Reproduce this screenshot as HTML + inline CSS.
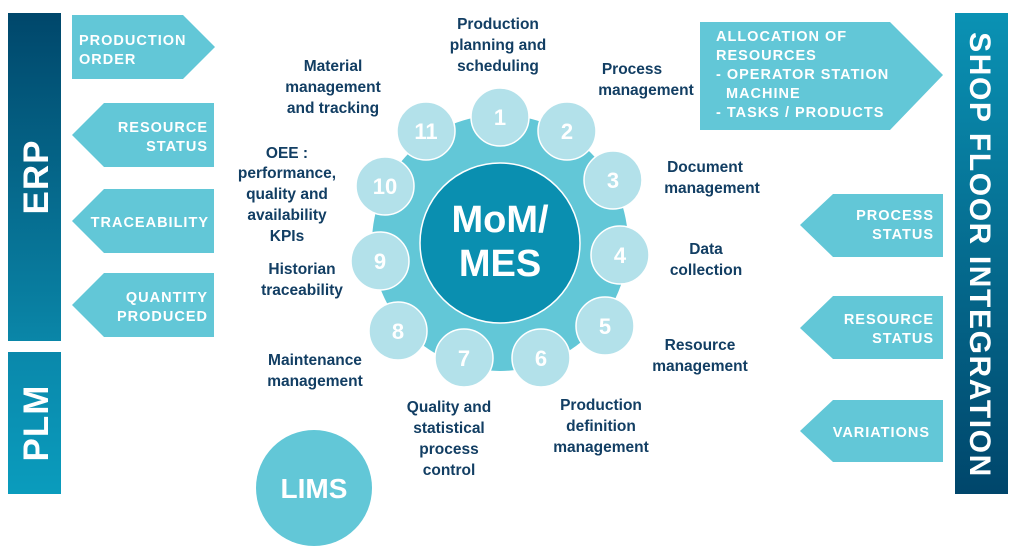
<!DOCTYPE html>
<html><head><meta charset="utf-8"><style>
html,body{margin:0;padding:0;background:#fff;}
svg{display:block;font-family:"Liberation Sans",Arial,sans-serif;font-weight:bold;}
.w{fill:#fff;font-size:14.5px;letter-spacing:1px;}
.n{fill:#123e63;font-size:15.5px;text-anchor:middle;}
.c{fill:#fff;font-size:22px;text-anchor:middle;}
</style></head><body>
<svg width="1024" height="554" viewBox="0 0 1024 554">
<defs>
<linearGradient id="gl" x1="0" y1="0" x2="0" y2="1"><stop offset="0" stop-color="#00476b"/><stop offset="1" stop-color="#0a86a8"/></linearGradient>
<linearGradient id="gr" x1="0" y1="0" x2="0" y2="1"><stop offset="0" stop-color="#0a92b4"/><stop offset="1" stop-color="#00466b"/></linearGradient>
<linearGradient id="gp" x1="0" y1="0" x2="0" y2="1"><stop offset="0" stop-color="#0a88ab"/><stop offset="1" stop-color="#0a9cbd"/></linearGradient>
</defs>
<rect x="8" y="13" width="53" height="328" fill="url(#gl)"/>
<rect x="8" y="352" width="53" height="142" fill="url(#gp)"/>
<text transform="translate(48,177) rotate(-90)" fill="#fff" font-size="35" text-anchor="middle" letter-spacing="1">ERP</text>
<text transform="translate(48,423) rotate(-90)" fill="#fff" font-size="35" text-anchor="middle" letter-spacing="1">PLM</text>
<rect x="955" y="13" width="53" height="481" fill="url(#gr)"/>
<text transform="translate(970,255) rotate(90)" fill="#fff" font-size="30" text-anchor="middle" letter-spacing="1.6">SHOP FLOOR INTEGRATION</text>
<polygon points="72,15 183,15 215,47 183,79 72,79" fill="#62c7d7"/>
<text class="w" x="79" y="45">PRODUCTION</text><text class="w" x="79" y="64">ORDER</text>
<polygon points="72,135 104,103 214,103 214,167 104,167" fill="#62c7d7"/>
<text class="w" x="208" y="132" text-anchor="end">RESOURCE</text><text class="w" x="208" y="151" text-anchor="end">STATUS</text>
<polygon points="72,221 104,189 214,189 214,253 104,253" fill="#62c7d7"/>
<text class="w" x="209" y="227" text-anchor="end">TRACEABILITY</text>
<polygon points="72,305 104,273 214,273 214,337 104,337" fill="#62c7d7"/>
<text class="w" x="208" y="302" text-anchor="end">QUANTITY</text><text class="w" x="208" y="321" text-anchor="end">PRODUCED</text>
<polygon points="700,22 890,22 943,75 890,130 700,130" fill="#62c7d7"/>
<text class="w" x="716" y="41">ALLOCATION OF</text>
<text class="w" x="716" y="60">RESOURCES</text>
<text class="w" x="716" y="79">- OPERATOR STATION</text>
<text class="w" x="726" y="98">MACHINE</text>
<text class="w" x="716" y="117">- TASKS / PRODUCTS</text>
<polygon points="800,225 833,194 943,194 943,257 833,257" fill="#62c7d7"/>
<text class="w" x="934" y="220" text-anchor="end">PROCESS</text><text class="w" x="934" y="239" text-anchor="end">STATUS</text>
<polygon points="800,328 833,296 943,296 943,359 833,359" fill="#62c7d7"/>
<text class="w" x="934" y="324" text-anchor="end">RESOURCE</text><text class="w" x="934" y="343" text-anchor="end">STATUS</text>
<polygon points="800,431 833,400 943,400 943,462 833,462" fill="#62c7d7"/>
<text class="w" x="930" y="437" text-anchor="end">VARIATIONS</text>
<circle cx="500" cy="243" r="128" fill="#62c7d7"/>
<circle cx="500" cy="243" r="80" fill="#0a8fb0" stroke="#fff" stroke-width="1.5"/>
<text fill="#fff" font-size="38" text-anchor="middle" x="500" y="232">MoM/</text>
<text fill="#fff" font-size="38" text-anchor="middle" x="500" y="276">MES</text>
<g fill="#b3e1ea" stroke="#fff" stroke-width="1.5">
<circle cx="500" cy="117" r="29"/><circle cx="567" cy="131" r="29"/><circle cx="613" cy="180" r="29"/>
<circle cx="620" cy="255" r="29"/><circle cx="605" cy="326" r="29"/><circle cx="541" cy="358" r="29"/>
<circle cx="464" cy="358" r="29"/><circle cx="398" cy="331" r="29"/><circle cx="380" cy="261" r="29"/>
<circle cx="385" cy="186" r="29"/><circle cx="426" cy="131" r="29"/>
</g>
<text class="c" x="500" y="125">1</text><text class="c" x="567" y="139">2</text><text class="c" x="613" y="188">3</text>
<text class="c" x="620" y="263">4</text><text class="c" x="605" y="334">5</text><text class="c" x="541" y="366">6</text>
<text class="c" x="464" y="366">7</text><text class="c" x="398" y="339">8</text><text class="c" x="380" y="269">9</text>
<text class="c" x="385" y="194">10</text><text class="c" x="426" y="139">11</text>
<text class="n" x="498" y="29">Production</text><text class="n" x="498" y="50">planning and</text><text class="n" x="498" y="71">scheduling</text>
<text class="n" x="632" y="74">Process</text><text class="n" x="646" y="95">management</text>
<text class="n" x="705" y="172">Document</text><text class="n" x="712" y="193">management</text>
<text class="n" x="706" y="254">Data</text><text class="n" x="706" y="275">collection</text>
<text class="n" x="700" y="350">Resource</text><text class="n" x="700" y="371">management</text>
<text class="n" x="601" y="410">Production</text><text class="n" x="601" y="431">definition</text><text class="n" x="601" y="452">management</text>
<text class="n" x="449" y="412">Quality and</text><text class="n" x="449" y="433">statistical</text><text class="n" x="449" y="454">process</text><text class="n" x="449" y="475">control</text>
<text class="n" x="315" y="365">Maintenance</text><text class="n" x="315" y="386">management</text>
<text class="n" x="302" y="274">Historian</text><text class="n" x="302" y="295">traceability</text>
<text class="n" x="287" y="158">OEE :</text><text class="n" x="287" y="178">performance,</text><text class="n" x="287" y="199">quality and</text><text class="n" x="287" y="220">availability</text><text class="n" x="287" y="241">KPIs</text>
<text class="n" x="333" y="71">Material</text><text class="n" x="333" y="92">management</text><text class="n" x="333" y="113">and tracking</text>
<circle cx="314" cy="488" r="58" fill="#62c7d7"/>
<text fill="#fff" font-size="28" text-anchor="middle" x="314" y="498">LIMS</text>
</svg>
</body></html>
